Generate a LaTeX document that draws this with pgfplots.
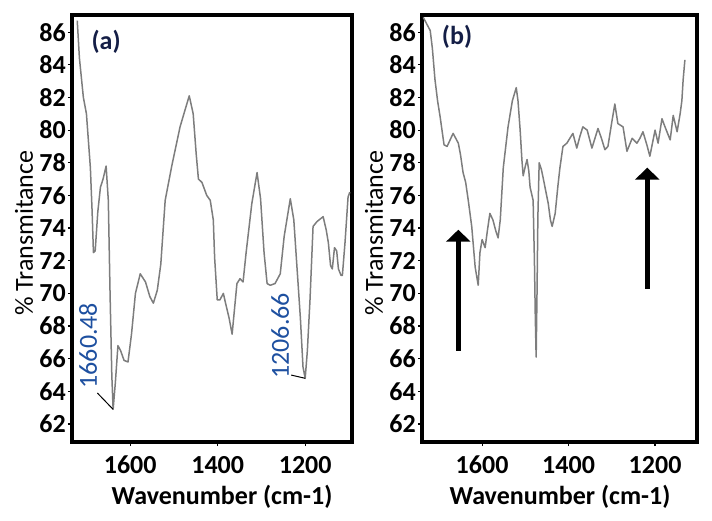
\documentclass[border=0pt]{standalone}
\usepackage{fontspec}
\setmainfont{Carlito}
\usepackage{pgfplots}
\pgfplotsset{compat=1.18}
\usetikzlibrary{arrows.meta}
\definecolor{curve}{RGB}{125,125,125}
\definecolor{annot}{RGB}{30,80,160}
\definecolor{navy}{RGB}{20,30,70}
\newcommand{\fsz}{\fontsize{26}{28}\selectfont}
\pgfplotsset{ftir/.style={
  scale only axis, height=427pt,
  ymin=60.9, ymax=87.05, x dir=reverse,
  axis line style={line width=3.5pt, black},
  tick align=outside, xtick pos=bottom, ytick pos=left,
  major tick length=4pt, tick style={line width=1.2pt, black},
  xtick={1200,1400,1600}, ytick={62,64,...,86},
  /pgf/number format/assume math mode=true,
  /pgf/number format/1000 sep={},
  ticklabel style={font=\fsz\bfseries, inner sep=2pt},
  xticklabel style={yshift=-8pt},
  xlabel={Wavenumber (cm-1)}, xlabel style={font=\fsz\bfseries, anchor=center},
  ylabel={\% Transmitance}, ylabel style={font=\fsz, anchor=center},
  clip=true,
}}
\begin{document}
\begin{tikzpicture}
\useasboundingbox (-72pt,-78pt) rectangle (640pt,442pt);
\begin{axis}[ftir, at={(0pt,0pt)}, anchor=south west, width=280pt,
  xmin=1093, xmax=1733,
  xlabel style={at={(axis description cs:0.536,-0.129)}},
  ylabel style={at={(axis description cs:-0.171,0.489)}}]
\addplot[curve, line width=1.5pt, line join=round] coordinates {
(1721,86.7) (1716,84.4) (1707,82.0) (1700,81.0) (1691,77.7) (1687,75.0) (1684,72.5) (1680,72.6)
(1674,75.0) (1668,76.5) (1662,77.0) (1655,77.8) (1650,75.7) (1646,70.0) (1642,65.0) (1639,62.9)
(1634,64.5) (1628,66.8) (1622,66.5) (1614,65.9) (1605,65.8) (1597,67.5) (1588,70.0) (1577,71.2)
(1565,70.7) (1555,69.8) (1547,69.4) (1538,70.2) (1530,71.8) (1520,75.7) (1505,77.8) (1486,80.2)
(1475,81.2) (1465,82.1) (1456,81.0) (1449,78.5) (1444,77.0) (1436,76.8) (1425,76.0) (1417,75.7)
(1410,74.5) (1407,72.2) (1401,69.6) (1395,69.6) (1387,70.0) (1382,69.4) (1374,68.5) (1367,67.5)
(1361,69.2) (1356,70.6) (1349,70.9) (1342,70.7) (1335,72.5) (1322,75.5) (1310,77.4) (1302,75.8)
(1294,72.5) (1287,70.6) (1280,70.5) (1269,70.6) (1257,71.2) (1248,73.5) (1234,75.8) (1226,74.5)
(1211,68.5) (1205,65.5) (1200,64.8) (1195,66.5) (1189,69.6) (1182,74.1) (1173,74.4) (1159,74.7)
(1152,73.9) (1147,73.1) (1142,71.7) (1138,71.5) (1133,72.8) (1128,72.6) (1124,71.5) (1118,71.1)
(1115,71.1) (1109,73.1) (1102,75.9) (1098,76.2)
};
\node[font=\fsz\bfseries, text=navy] at (axis cs:1655,85.4) {(a)};
\node[rotate=90, font=\fsz, text=annot] at (axis cs:1696,66.8) {1660.48};
\draw[black, line width=1pt] (axis cs:1675,63.9) -- (axis cs:1639,62.9);
\node[rotate=90, font=\fsz, text=annot] at (axis cs:1257,67.4) {1206.66};
\draw[black, line width=1pt] (axis cs:1232,65.0) -- (axis cs:1200,64.8);
\end{axis}
\begin{axis}[ftir, at={(350pt,0pt)}, anchor=south west, width=275pt,
  xmin=1103, xmax=1739,
  xlabel style={at={(axis description cs:0.502,-0.129)}},
  ylabel style={at={(axis description cs:-0.1745,0.489)}}]
\addplot[curve, line width=1.5pt, line join=round] coordinates {
(1736,86.9) (1728,86.5) (1720,86.1) (1715,85.0) (1709,83.1) (1703,81.8) (1697,80.8) (1688,79.1)
(1681,79.0) (1674,79.4) (1667,79.8) (1661,79.5) (1655,79.2) (1650,78.5) (1644,77.4) (1638,76.8)
(1632,75.7) (1624,74.1) (1616,71.6) (1609,70.5) (1605,72.5) (1600,73.3) (1593,72.8) (1588,73.8)
(1582,74.9) (1575,74.5) (1568,73.8) (1563,73.4) (1558,74.5) (1551,77.7) (1540,80.2) (1530,81.8)
(1521,82.6) (1517,81.8) (1512,80.0) (1508,78.2) (1505,77.2) (1500,77.8) (1496,78.2) (1492,77.5)
(1489,76.5) (1482,75.7) (1479,72.0) (1477,68.6) (1475,66.1) (1473,70.0) (1471,74.7) (1468,78.0)
(1463,77.6) (1459,77.1) (1447,75.5) (1442,74.5) (1438,74.1) (1431,74.9) (1425,76.5) (1420,77.7)
(1413,79.0) (1404,79.2) (1397,79.5) (1390,79.8) (1381,78.9) (1374,79.6) (1367,80.2) (1357,80.0)
(1346,78.9) (1339,79.5) (1332,80.1) (1324,79.5) (1316,78.8) (1309,79.0) (1300,80.5) (1293,81.6)
(1286,80.4) (1274,80.2) (1265,78.7) (1253,79.5) (1242,79.2) (1235,79.5) (1228,79.9) (1219,79.1)
(1212,78.4) (1206,79.2) (1200,80.0) (1193,79.2) (1184,80.7) (1177,80.2) (1165,79.4) (1158,80.9)
(1149,79.9) (1142,81.0) (1138,81.8) (1135,83.1) (1131,84.3)
};
\node[font=\fsz\bfseries, text=navy] at (axis cs:1658,85.7) {(b)};
\draw[black, line width=4.5pt, -{Triangle[width=24pt,length=12pt]}] (axis cs:1655,66.5) -- (axis cs:1655,73.9);
\draw[black, line width=4.5pt, -{Triangle[width=24pt,length=12pt]}] (axis cs:1218,70.3) -- (axis cs:1218,77.7);
\end{axis}
\end{tikzpicture}
\end{document}
